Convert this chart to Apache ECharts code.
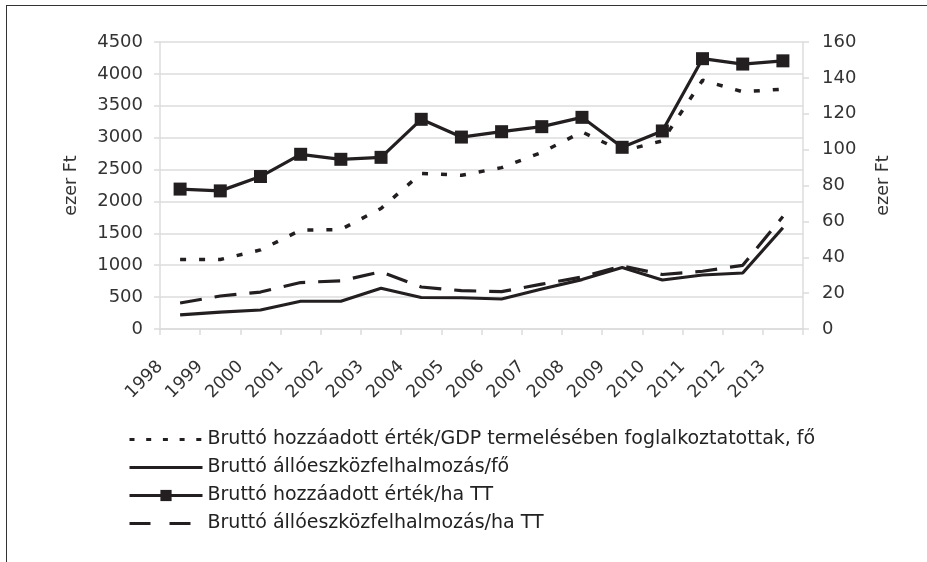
<!DOCTYPE html>
<html>
<head>
<meta charset="utf-8">
<script src="https://cdn.jsdelivr.net/npm/echarts@6/dist/echarts.min.js"></script>
<style>
  html, body { margin: 0; padding: 0; background: #fff; }
  #frame {
    position: absolute; left: 6px; top: 5px; width: 921px; height: 557px;
    border-left: 1.5px solid #333; border-top: 1.5px solid #333;
  }
  #home { position: absolute; left: 0; top: 0; width: 927px; height: 562px; }
</style>
</head>
<body>
<div id="frame"></div>
<div id="home"></div>
<script>
// years on the x axis
var years = ["1998", "1999", "2000", "2001", "2002", "2003", "2004", "2005",
  "2006", "2007", "2008", "2009", "2010", "2011", "2012", "2013"];

// left axis (ezer Ft), per employed person
var gdpPerWorker = [1090, 1090, 1240, 1550, 1560, 1890, 2440, 2410,
  2530, 2770, 3090, 2790, 2950, 3900, 3720, 3760];
var capitalPerWorker = [222, 266, 298, 435, 435, 638, 494, 490,
  470, 628, 775, 964, 768, 847, 878, 1588];

// right axis (ezer Ft), per hectare
var valuePerHa = [78, 77, 85, 97.4, 94.6, 95.7, 116.9, 107,
  110, 112.8, 118, 101.3, 110.4, 150.7, 147.7, 149.5];
var capitalPerHa = [14.5, 18.4, 20.6, 25.9, 26.9, 31.9, 23.4, 21.4,
  20.8, 25, 29, 35.2, 30.4, 32.2, 35.5, 62.7];

var names = [
  "Bruttó hozzáadott érték/GDP termelésében foglalkoztatottak, fő",
  "Bruttó állóeszközfelhalmozás/fő",
  "Bruttó hozzáadott érték/ha TT",
  "Bruttó állóeszközfelhalmozás/ha TT"
];

var ink = "#231f20";
var gridGray = "#dcdcdc";
var font = "DejaVu Sans";
var noMarker = { color: "rgba(0,0,0,0)", borderColor: "rgba(0,0,0,0)", borderWidth: 0 };

var myChart = echarts.init(document.getElementById("home"));
var option = {
  animation: false,
  textStyle: { fontFamily: font },
  grid: [
    { left: 160, right: 124, top: 42, bottom: 233 },
    { left: 140, right: 144, top: 42, bottom: 233 }
  ],
  legend: {
    orient: "vertical",
    left: 128,
    top: 430,
    padding: 0,
    itemWidth: 73,
    itemHeight: 14,
    itemGap: 9,
    lineStyle: { width: 3 },
    textStyle: { fontSize: 19, color: "#222", fontFamily: font },
    data: [
      { name: names[0], itemStyle: noMarker, lineStyle: { type: [5, 11.7] } },
      { name: names[1], itemStyle: noMarker },
      { name: names[2] },
      { name: names[3], itemStyle: noMarker, lineStyle: { type: [21, 19] } }
    ]
  },
  xAxis: [
    {
      type: "category",
      gridIndex: 0,
      data: years,
      boundaryGap: true,
      axisLine: { lineStyle: { color: gridGray, width: 1.5 } },
      axisTick: { show: true, interval: 0, length: 6, lineStyle: { color: gridGray, width: 1.5 } },
      axisLabel: { show: false }
    },
    {
      type: "category",
      gridIndex: 1,
      data: years,
      boundaryGap: true,
      axisLine: { show: false },
      axisTick: { show: false },
      axisLabel: {
        interval: 0,
        rotate: 45,
        margin: 35,
        fontSize: 17.5,
        color: "#333",
        fontFamily: font
      }
    }
  ],
  yAxis: [
    {
      type: "value",
      gridIndex: 0,
      min: 0,
      max: 4500,
      interval: 500,
      name: "ezer Ft",
      nameLocation: "middle",
      nameRotate: 90,
      nameGap: 80,
      nameTextStyle: { fontSize: 17.5, color: "#333", fontFamily: font },
      axisLine: { show: true, lineStyle: { color: gridGray, width: 1.5 } },
      axisTick: { show: true, length: 6, lineStyle: { color: gridGray, width: 1.5 } },
      axisLabel: {
        fontSize: 18, color: "#333", margin: 17, fontFamily: font,
        formatter: function (v) { return String(v); }
      },
      splitLine: { lineStyle: { color: gridGray, width: 1.5 } }
    },
    {
      type: "value",
      gridIndex: 0,
      position: "right",
      min: 0,
      max: 160,
      interval: 20,
      name: "ezer Ft",
      nameLocation: "middle",
      nameRotate: 90,
      nameGap: 71,
      nameTextStyle: { fontSize: 17.5, color: "#333", fontFamily: font },
      axisLine: { show: true, lineStyle: { color: gridGray, width: 1.5 } },
      axisTick: { show: true, length: 6, lineStyle: { color: gridGray, width: 1.5 } },
      axisLabel: {
        fontSize: 18, color: "#333", margin: 19, fontFamily: font,
        formatter: function (v) { return String(v); }
      },
      splitLine: { show: false }
    },
    { type: "value", gridIndex: 1, show: false, min: 0, max: 1 }
  ],
  series: [
    {
      name: names[0],
      type: "line",
      xAxisIndex: 0,
      yAxisIndex: 0,
      data: gdpPerWorker,
      symbol: "none",
      lineStyle: { color: ink, width: 3.5, type: [6, 13] },
      itemStyle: { color: ink }
    },
    {
      name: names[1],
      type: "line",
      xAxisIndex: 0,
      yAxisIndex: 0,
      data: capitalPerWorker,
      symbol: "none",
      lineStyle: { color: ink, width: 3.2 },
      itemStyle: { color: ink }
    },
    {
      name: names[2],
      type: "line",
      xAxisIndex: 0,
      yAxisIndex: 1,
      data: valuePerHa,
      symbol: "rect",
      symbolSize: 13,
      showAllSymbol: true,
      lineStyle: { color: ink, width: 3.2 },
      itemStyle: { color: ink }
    },
    {
      name: names[3],
      type: "line",
      xAxisIndex: 0,
      yAxisIndex: 1,
      data: capitalPerHa,
      symbol: "none",
      lineStyle: { color: ink, width: 3.2, type: [22, 13] },
      itemStyle: { color: ink }
    }
  ]
};
myChart.setOption(option);
</script>
</body>
</html>
